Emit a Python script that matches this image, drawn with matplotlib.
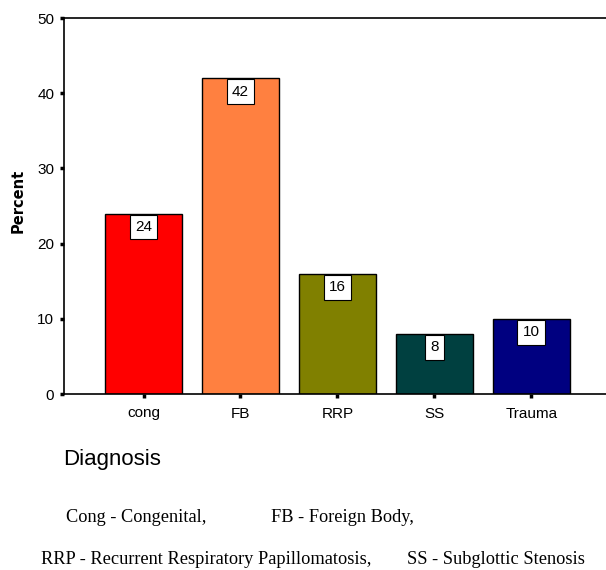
import matplotlib
matplotlib.use("Agg")
import matplotlib.pyplot as plt

categories = ["cong", "FB", "RRP", "SS", "Trauma"]
percents = [24, 42, 16, 8, 10]
labels = ["24", "42", "16", "8", "10"]
colors = ["#FF0000", "#FF8040", "#808000", "#004040", "#000080"]
yticks = [0, 10, 20, 30, 40, 50]

plt.rcParams['font.family'] = ['Liberation Sans', 'DejaVu Sans']

fig = plt.figure(figsize=(6.06, 5.70), dpi=100)
ax = fig.add_axes([64/606, 1-394/570, 1-64/606, (394-18)/570])

x = list(range(len(categories)))
ax.bar(x, percents, width=0.8, color=colors, edgecolor="black", linewidth=1.0)
for xi, v, lab in zip(x, percents, labels):
    ax.text(xi, v - 1.8, lab, ha="center", va="center", fontsize=11,
            bbox=dict(boxstyle="square,pad=0.35", facecolor="white", edgecolor="black", linewidth=0.8))

ax.set_xlim(-0.82, 4.77)
ax.set_ylim(0, 50)
ax.set_yticks(yticks)
ax.set_xticks(x)
ax.set_xticklabels(categories, fontsize=11)
ax.tick_params(axis='y', labelsize=11, length=3, width=2.5, direction='out', pad=4)
ax.tick_params(axis='x', length=3, width=2.5, direction='out', pad=6)
ax.spines['right'].set_visible(False)
for s in ['left', 'bottom', 'top']:
    ax.spines[s].set_linewidth(1.2)

fig.text(18/606, 1-201/570, "Percent", fontsize=10.5, fontweight="bold", rotation=90,
         ha="center", va="center", family=['DejaVu Sans'])

fig.text(63/606, 1-460/570, "Diagnosis", fontsize=16, ha="left", va="center")
serif = ['Liberation Serif', 'DejaVu Serif']
fs = 13.2
fig.text(66/606, 1-517/570, "Cong - Congenital,", fontsize=fs, family=serif, ha="left", va="center")
fig.text(271/606, 1-517/570, "FB - Foreign Body,", fontsize=fs, family=serif, ha="left", va="center")
fig.text(41/606, 1-560/570, "RRP - Recurrent Respiratory Papillomatosis,", fontsize=fs, family=serif, ha="left", va="center")
fig.text(407/606, 1-560/570, "SS - Subglottic Stenosis", fontsize=fs, family=serif, ha="left", va="center")

fig.savefig("out.png", dpi=100)
